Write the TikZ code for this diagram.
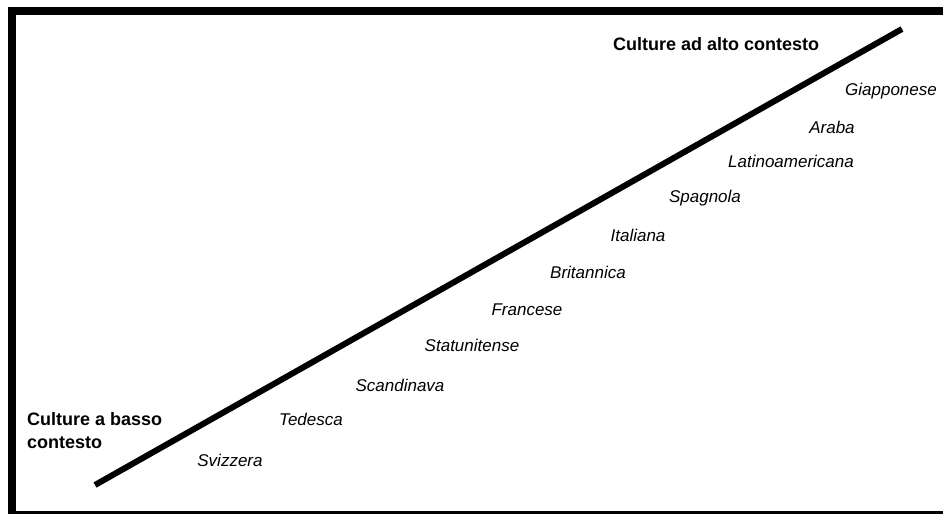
\documentclass[tikz,border=0pt]{standalone}
\usepackage{fontspec}
\setmainfont{Liberation Sans}
\begin{document}
\begin{tikzpicture}[x=1pt,y=-1pt,
  lbl/.style={font=\fontsize{17}{20}\selectfont\itshape, inner sep=0pt, anchor=center},
  head/.style={font=\fontsize{18}{23}\selectfont\bfseries, inner sep=0pt, align=left},
  frame/.style={fill=black}]
\useasboundingbox (0,0) rectangle (943,515);
\fill[white] (0,0) rectangle (943,515);
% frame
\fill[frame] (8,7) rectangle (943,15);
\fill[frame] (8,7) rectangle (16,513);
\fill[frame] (8,511) rectangle (943,513.5);
% main line
\coordinate (lo) at (95,485);
\coordinate (hi) at (902,29);
\draw[line width=6pt, line cap=butt] (lo) -- (hi);
% headings
\node[head, anchor=west] (alto) at (613,44) {Culture ad alto contesto};
\node[head, anchor=north west] (basso) at (27,412) {Culture a basso\\contesto};
% labels
\node[lbl] (giap) at (891,91) {Giapponese};
\node[lbl] (araba) at (832,127) {Araba};
\node[lbl] (latino) at (791,161) {Latinoamericana};
\node[lbl] (spagnola) at (705,198) {Spagnola};
\node[lbl] (italiana) at (638,235) {Italiana};
\node[lbl] (brit) at (588,272) {Britannica};
\node[lbl] (francese) at (527,310) {Francese};
\node[lbl] (statu) at (472,345) {Statunitense};
\node[lbl] (scand) at (400,385) {Scandinava};
\node[lbl] (tedesca) at (311,419) {Tedesca};
\node[lbl] (svizzera) at (230,460) {Svizzera};
\end{tikzpicture}
\end{document}
